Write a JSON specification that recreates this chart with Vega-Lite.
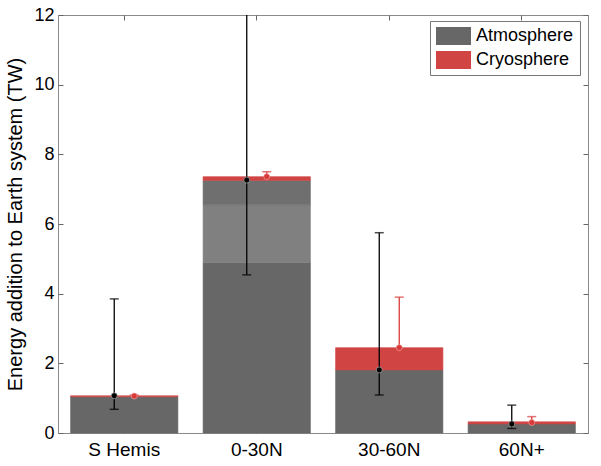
{
  "$schema": "https://vega.github.io/schema/vega-lite/v6.json",
  "width": 530,
  "height": 418,
  "autosize": {"type": "none"},
  "padding": {"left": 58, "top": 15, "right": 13, "bottom": 33},
  "background": "white",
  "config": {
    "font": "Liberation Sans",
    "view": {"stroke": "#8a8a8a", "strokeWidth": 1},
    "axis": {"domain": false, "grid": false, "labelColor": "#000", "labelFontSize": 18, "tickColor": "#666", "tickSize": -5, "titleFontWeight": "normal", "titleColor": "#000"}
  },
  "datasets": {
    "bars": [
      {"region": "S Hemis", "part": "Atmosphere", "lo": 0, "hi": 1.04},
      {"region": "S Hemis", "part": "Cryosphere", "lo": 1.04, "hi": 1.07},
      {"region": "0-30N", "part": "Atmosphere", "lo": 0, "hi": 4.89},
      {"region": "0-30N", "part": "Atmosphere band 2", "lo": 4.89, "hi": 6.55},
      {"region": "0-30N", "part": "Atmosphere band 3", "lo": 6.55, "hi": 7.25},
      {"region": "0-30N", "part": "Cryosphere", "lo": 7.25, "hi": 7.36},
      {"region": "30-60N", "part": "Atmosphere", "lo": 0, "hi": 1.81},
      {"region": "30-60N", "part": "Cryosphere", "lo": 1.81, "hi": 2.45},
      {"region": "60N+", "part": "Atmosphere", "lo": 0, "hi": 0.26},
      {"region": "60N+", "part": "Cryosphere", "lo": 0.26, "hi": 0.32}
    ],
    "errors": [
      {"region": "S Hemis", "series": "Atmosphere", "value": 1.07, "low": 0.68, "high": 3.85},
      {"region": "S Hemis", "series": "Cryosphere", "value": 1.06, "low": 1.03, "high": 1.09},
      {"region": "0-30N", "series": "Atmosphere", "value": 7.26, "low": 4.54, "high": 13},
      {"region": "0-30N", "series": "Cryosphere", "value": 7.36, "low": 7.28, "high": 7.5},
      {"region": "30-60N", "series": "Atmosphere", "value": 1.81, "low": 1.09, "high": 5.75},
      {"region": "30-60N", "series": "Cryosphere", "value": 2.45, "low": 2.45, "high": 3.9},
      {"region": "60N+", "series": "Atmosphere", "value": 0.26, "low": 0.13, "high": 0.8},
      {"region": "60N+", "series": "Cryosphere", "value": 0.3, "low": 0.25, "high": 0.47}
    ]
  },
  "resolve": {"axis": {"x": "independent", "y": "independent"}},
  "layer": [
    {
      "data": {"name": "bars"},
      "mark": {"type": "bar", "strokeWidth": 0.6},
      "encoding": {
        "x": {"field": "region", "type": "nominal", "sort": ["S Hemis", "0-30N", "30-60N", "60N+"],
              "scale": {"paddingInner": 0.19, "paddingOuter": 0.095},
              "axis": {"title": null, "labelAngle": 0, "labelPadding": 12, "labelFontSize": 19, "orient": "bottom"}},
        "y": {"field": "lo", "type": "quantitative", "scale": {"domain": [0, 12], "nice": false},
              "axis": {"title": "Energy addition to Earth system (TW)", "titleFontSize": 20, "values": [0, 2, 4, 6, 8, 10, 12], "labelPadding": 9, "titlePadding": 8, "orient": "left"}},
        "y2": {"field": "hi"},
        "color": {"field": "part", "type": "nominal",
                  "scale": {"domain": ["Atmosphere", "Atmosphere band 2", "Atmosphere band 3", "Cryosphere"],
                            "range": ["#676767", "#808080", "#6f6f6f", "#d04444"]},
                  "legend": {"values": ["Atmosphere", "Cryosphere"], "title": null, "orient": "none", "legendX": 372, "legendY": 6,
                             "symbolType": "M-1,-1H2.889V1H-1Z", "symbolSize": 324, "symbolStrokeWidth": 0,
                             "labelFontSize": 18, "labelOffset": 22, "labelColor": "#000", "rowPadding": 6,
                             "padding": 6, "strokeColor": "#777", "fillColor": "white", "symbolOpacity": 1}},
        "stroke": {"field": "part", "type": "nominal",
                   "scale": {"domain": ["Atmosphere", "Atmosphere band 2", "Atmosphere band 3", "Cryosphere"],
                             "range": ["#676767", "#808080", "#6f6f6f", "#d04444"]},
                   "legend": null}
      }
    },
    {
      "data": {"name": "errors"},
      "transform": [{"filter": "datum.series === 'Atmosphere'"}],
      "layer": [
        {"mark": {"type": "rule", "color": "#000", "strokeWidth": 1.3, "xOffset": -10, "clip": true},
         "encoding": {"x": {"field": "region", "type": "nominal", "sort": ["S Hemis", "0-30N", "30-60N", "60N+"], "axis": null},
                      "y": {"field": "low", "type": "quantitative", "axis": null}, "y2": {"field": "high"}}},
        {"mark": {"type": "tick", "color": "#000", "thickness": 1.5, "size": 9, "xOffset": -10, "clip": true},
         "encoding": {"x": {"field": "region", "type": "nominal", "sort": ["S Hemis", "0-30N", "30-60N", "60N+"], "axis": null},
                      "y": {"field": "low", "type": "quantitative", "axis": null}}},
        {"mark": {"type": "tick", "color": "#000", "thickness": 1.5, "size": 9, "xOffset": -10, "clip": true},
         "encoding": {"x": {"field": "region", "type": "nominal", "sort": ["S Hemis", "0-30N", "30-60N", "60N+"], "axis": null},
                      "y": {"field": "high", "type": "quantitative", "axis": null}}},
        {"mark": {"type": "circle", "color": "#000", "size": 36, "opacity": 1, "stroke": "#aaa", "strokeWidth": 0.7, "xOffset": -10},
         "encoding": {"x": {"field": "region", "type": "nominal", "sort": ["S Hemis", "0-30N", "30-60N", "60N+"], "axis": null},
                      "y": {"field": "value", "type": "quantitative", "axis": null}}}
      ]
    },
    {
      "data": {"name": "errors"},
      "transform": [{"filter": "datum.series === 'Cryosphere'"}],
      "layer": [
        {"mark": {"type": "rule", "color": "#d83a3a", "strokeWidth": 1.3, "xOffset": 10, "clip": true},
         "encoding": {"x": {"field": "region", "type": "nominal", "sort": ["S Hemis", "0-30N", "30-60N", "60N+"], "axis": null},
                      "y": {"field": "low", "type": "quantitative", "axis": null}, "y2": {"field": "high"}}},
        {"mark": {"type": "tick", "color": "#d83a3a", "thickness": 1.5, "size": 9, "xOffset": 10, "clip": true},
         "encoding": {"x": {"field": "region", "type": "nominal", "sort": ["S Hemis", "0-30N", "30-60N", "60N+"], "axis": null},
                      "y": {"field": "high", "type": "quantitative", "axis": null}}},
        {"mark": {"type": "circle", "color": "#d83a3a", "size": 36, "opacity": 1, "stroke": "#f0a0a0", "strokeWidth": 0.7, "xOffset": 10},
         "encoding": {"x": {"field": "region", "type": "nominal", "sort": ["S Hemis", "0-30N", "30-60N", "60N+"], "axis": null},
                      "y": {"field": "value", "type": "quantitative", "axis": null}}}
      ]
    },
    {
      "data": {"name": "bars"},
      "mark": {"type": "point", "opacity": 0},
      "encoding": {
        "x": {"field": "region", "type": "nominal", "sort": ["S Hemis", "0-30N", "30-60N", "60N+"],
              "axis": {"orient": "top", "labels": false, "title": null}},
        "y": {"field": "hi", "type": "quantitative",
              "axis": {"orient": "right", "labels": false, "title": null, "values": [0, 2, 4, 6, 8, 10, 12]}}
      }
    }
  ]
}
